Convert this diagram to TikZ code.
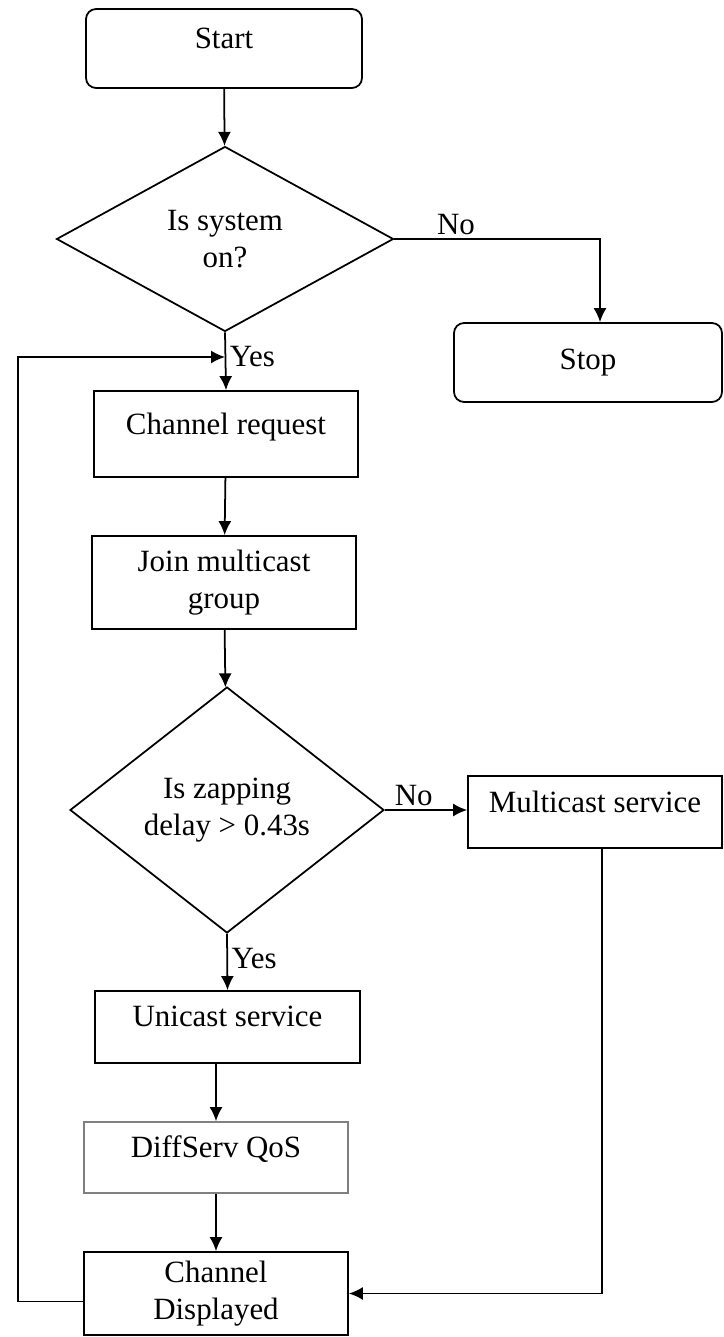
\documentclass[tikz,border=0pt]{standalone}
\usepackage{fontspec}
\setmainfont{Liberation Serif}
\usetikzlibrary{shapes.geometric,arrows.meta}
\begin{document}
\begin{tikzpicture}[x=0.02cm,y=-0.02cm,
  every node/.style={font=\fontsize{17.6}{21}\selectfont},
  term/.style={draw, rounded corners=0.2cm, line width=1pt, minimum width=5.52cm, minimum height=1.58cm},
  proc/.style={draw, line width=1pt, minimum height=1.44cm, align=center},
  upper/.style={text depth=0.42cm},
  dec/.style={draw, diamond, line width=1pt, inner sep=0pt, align=center},
  arr/.style={line width=1pt, -{Latex[length=2.8mm,width=2.6mm]}},
  lbl/.style={inner sep=2pt}]
\useasboundingbox (0,0) rectangle (723,1337);
\node[term, upper] (start) at (224,48.5){Start};
\node[dec, minimum width=6.74cm, minimum height=3.7cm] (sys) at (225,239){Is system\\on?};
\node[term, minimum width=5.36cm] (stop) at (588,362.5){Stop};
\node[proc, upper, minimum width=5.28cm, minimum height=1.72cm] (req) at (226,434){Channel request};
\node[proc, minimum width=5.28cm, minimum height=1.86cm] (join) at (224,582.5){Join multicast\\group};
\node[dec, minimum width=6.28cm, minimum height=4.92cm] (zap) at (227,810){Is zapping\\delay > 0.43s};
\node[proc, upper, minimum width=5.08cm] (mcast) at (595,812){Multicast service};
\node[proc, upper, minimum width=5.3cm] (uni) at (227.5,1027){Unicast service};
\node[proc, upper, draw=gray, minimum width=5.28cm, minimum height=1.42cm] (diff) at (216,1157.5){DiffServ QoS};
\node[proc, minimum width=5.28cm, minimum height=1.66cm] (disp) at (216,1293.5){Channel\\Displayed};
\draw[arr] (start) -- (sys);
\draw[arr] (sys.east) -| ([xshift=0.24cm]stop.north) node[pos=0.15, above, lbl] (nosys){No};
\draw[arr] (sys.south) -- (req.north) node[pos=0.42, right, lbl] (yessys){Yes};
\draw[arr] (req) -- (join);
\draw[arr] (join) -- (zap);
\draw[arr] (zap.east) -- (zap.east -| mcast.west) node[pos=0.35, above, lbl] (nozap){No};
\draw[arr] (zap.south) -- (uni.north) node[pos=0.43, right, lbl] (yeszap){Yes};
\draw[arr] (uni.south -| diff.north) -- (diff.north);
\draw[arr] (diff) -- (disp);
\draw[arr] ([xshift=0.14cm]mcast.south) |- (disp.east);
\coordinate (lp) at (18,357);
\draw[arr] ([yshift=-0.16cm]disp.west) -| (lp) -- (sys.south |- lp);
\end{tikzpicture}
\end{document}
